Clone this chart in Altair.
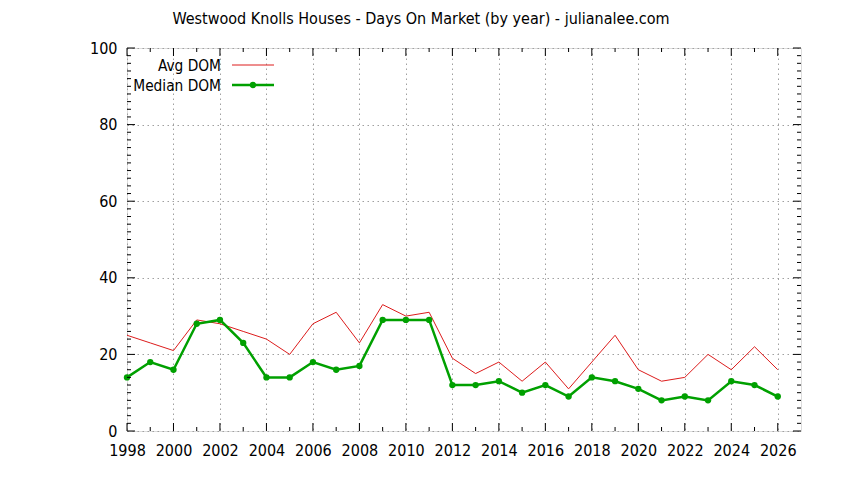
import altair as alt
import pandas as pd

title_text = "Westwood Knolls Houses - Days On Market (by year) - julianalee.com"
years = list(range(1998, 2027))
avg_dom = [25, 23, 21, 29, 28, 26, 24, 20, 28, 31, 23, 33, 30, 31, 19, 15, 18, 13, 18, 11, 18, 25, 16, 13, 14, 20, 16, 22, 16]
median_dom = [14, 18, 16, 28, 29, 23, 14, 14, 18, 16, 17, 29, 29, 29, 12, 12, 13, 10, 12, 9, 14, 13, 11, 8, 9, 8, 13, 12, 9]
x_major = list(range(1998, 2027, 2))
x_minor = list(range(1999, 2027, 2))
y_major = [0, 20, 40, 60, 80, 100]
y_minor = [v for v in range(0, 101, 2) if v % 20 != 0]
legend_labels = ["Avg DOM", "Median DOM"]

RED = "#dd1c1c"
GREEN = "#00a000"
FONT = "DejaVu Sans Condensed, DejaVu Sans"
FS = 16
LFS = 15.3
W, H = 674, 383
MAJ, MIN = 8, 4

df = pd.DataFrame({"year": years, "avg": avg_dom, "median": median_dom})
xs = alt.Scale(domain=[1998, 2027], nice=False, zero=False)
ys = alt.Scale(domain=[0, 100], nice=False)

base = alt.Chart(df)

grid_x = alt.Axis(values=x_major, format="d", title=None, ticks=False, domain=False,
                  grid=True, gridDash=[1.5, 3.5], gridColor="#a0a0a0", gridWidth=1,
                  labelFont=FONT, labelFontSize=FS, labelColor="black", labelPadding=11,
                  labelFlush=False, labelOverlap=False)
grid_y = alt.Axis(values=y_major, title=None, ticks=False, domain=False,
                  grid=True, gridDash=[1.5, 3.5], gridColor="#a0a0a0", gridWidth=1,
                  labelFont=FONT, labelFontSize=FS, labelColor="black", labelPadding=10)

avg_line = base.mark_line(color=RED, strokeWidth=1).encode(
    x=alt.X("year:Q", scale=xs, axis=grid_x),
    y=alt.Y("avg:Q", scale=ys, axis=grid_y),
)
med_line = base.mark_line(color=GREEN, strokeWidth=2.5).encode(
    x=alt.X("year:Q", scale=xs), y=alt.Y("median:Q", scale=ys))
med_pts = base.mark_point(color=GREEN, filled=True, opacity=1, size=40, shape="circle").encode(
    x=alt.X("year:Q", scale=xs), y=alt.Y("median:Q", scale=ys))

def xticks(vals, length):
    d = alt.Chart(pd.DataFrame({"t": vals}))
    bot = d.mark_rule(color="black", strokeWidth=1).encode(
        x=alt.X("t:Q", scale=xs), y=alt.value(H), y2=alt.value(H - length))
    top = d.mark_rule(color="black", strokeWidth=1).encode(
        x=alt.X("t:Q", scale=xs), y=alt.value(0), y2=alt.value(length))
    return [bot, top]

def yticks(vals, length):
    d = alt.Chart(pd.DataFrame({"t": vals}))
    left = d.mark_rule(color="black", strokeWidth=1).encode(
        y=alt.Y("t:Q", scale=ys), x=alt.value(0), x2=alt.value(length))
    right = d.mark_rule(color="black", strokeWidth=1).encode(
        y=alt.Y("t:Q", scale=ys), x=alt.value(W), x2=alt.value(W - length))
    return [left, right]

ticks = xticks(x_major, MAJ) + xticks(x_minor, MIN) + yticks(y_major, MAJ) + yticks(y_minor, MIN)

# legend (gnuplot style: label right-aligned, then line sample)
leg_avg_txt = alt.Chart(pd.DataFrame({"label": [legend_labels[0]]})).mark_text(
    align="right", baseline="middle", font=FONT, fontSize=LFS, color="black").encode(
    text="label:N", x=alt.value(94), y=alt.value(18))
leg_avg_line = alt.Chart(pd.DataFrame({"label": [legend_labels[0]]})).mark_rule(
    color=RED, strokeWidth=1).encode(x=alt.value(105), x2=alt.value(147), y=alt.value(17))
leg_med_txt = alt.Chart(pd.DataFrame({"label": [legend_labels[1]]})).mark_text(
    align="right", baseline="middle", font=FONT, fontSize=LFS, color="black").encode(
    text="label:N", x=alt.value(94), y=alt.value(38))
leg_med_line = alt.Chart(pd.DataFrame({"label": [legend_labels[1]]})).mark_rule(
    color=GREEN, strokeWidth=2.5).encode(x=alt.value(105), x2=alt.value(147), y=alt.value(37))
leg_med_pt = alt.Chart(pd.DataFrame({"label": [legend_labels[1]]})).mark_point(
    color=GREEN, filled=True, opacity=1, size=40, shape="circle").encode(
    x=alt.value(126), y=alt.value(37))

title_mark = alt.Chart(pd.DataFrame({"t": [title_text]})).mark_text(
    align="center", baseline="alphabetic", font=FONT, fontSize=FS, color="black").encode(
    text="t:N", x=alt.value(294), y=alt.value(-24))

chart = alt.layer(
    avg_line, med_line, med_pts, *ticks,
    leg_avg_txt, leg_avg_line, leg_med_txt, leg_med_line, leg_med_pt, title_mark,
).properties(
    width=W, height=H,
    autosize=alt.AutoSizeParams(type="none"),
    padding={"left": 119, "top": 40, "right": 35, "bottom": 41},
).configure_view(stroke="black", strokeWidth=1).configure(background="white")

chart.save("out.html", embed_options={"renderer": "svg", "actions": False})
